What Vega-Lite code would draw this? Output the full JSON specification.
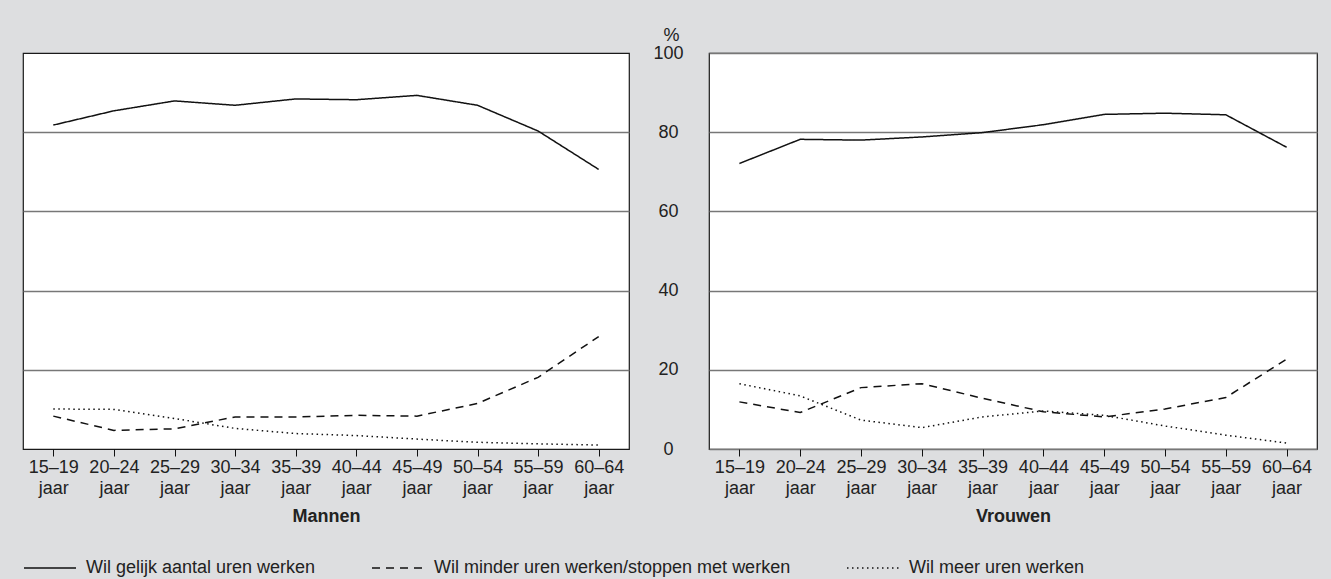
{
  "$schema": "https://vega.github.io/schema/vega-lite/v6.json",
  "background": "#dddee0",
  "padding": {"left": 22, "top": 25, "right": 15, "bottom": 4},
  "bounds": "flush",
  "spacing": 80,
  "config": {
    "font": "Liberation Sans",
    "view": {"fill": "white", "stroke": "#1a1a1a", "strokeWidth": 1.2},
    "axis": {"labelFont": "Liberation Sans", "labelFontSize": 18, "labelColor": "#222", "titleFont": "Liberation Sans", "titleColor": "#222", "titleFontSize": 18},
    "legend": {"labelFont": "Liberation Sans", "labelFontSize": 18, "labelColor": "#222"}
  },
  "datasets": {
    "mannen": [
      {"leeftijd": "15–19 jaar", "reeks": "Wil gelijk aantal uren werken", "pct": 81.8},
      {"leeftijd": "20–24 jaar", "reeks": "Wil gelijk aantal uren werken", "pct": 85.4},
      {"leeftijd": "25–29 jaar", "reeks": "Wil gelijk aantal uren werken", "pct": 87.9},
      {"leeftijd": "30–34 jaar", "reeks": "Wil gelijk aantal uren werken", "pct": 86.8},
      {"leeftijd": "35–39 jaar", "reeks": "Wil gelijk aantal uren werken", "pct": 88.4},
      {"leeftijd": "40–44 jaar", "reeks": "Wil gelijk aantal uren werken", "pct": 88.2},
      {"leeftijd": "45–49 jaar", "reeks": "Wil gelijk aantal uren werken", "pct": 89.3},
      {"leeftijd": "50–54 jaar", "reeks": "Wil gelijk aantal uren werken", "pct": 86.8},
      {"leeftijd": "55–59 jaar", "reeks": "Wil gelijk aantal uren werken", "pct": 80.3},
      {"leeftijd": "60–64 jaar", "reeks": "Wil gelijk aantal uren werken", "pct": 70.6},
      {"leeftijd": "15–19 jaar", "reeks": "Wil minder uren werken/stoppen met werken", "pct": 8.3},
      {"leeftijd": "20–24 jaar", "reeks": "Wil minder uren werken/stoppen met werken", "pct": 4.7},
      {"leeftijd": "25–29 jaar", "reeks": "Wil minder uren werken/stoppen met werken", "pct": 5.1},
      {"leeftijd": "30–34 jaar", "reeks": "Wil minder uren werken/stoppen met werken", "pct": 8.1},
      {"leeftijd": "35–39 jaar", "reeks": "Wil minder uren werken/stoppen met werken", "pct": 8.1},
      {"leeftijd": "40–44 jaar", "reeks": "Wil minder uren werken/stoppen met werken", "pct": 8.5},
      {"leeftijd": "45–49 jaar", "reeks": "Wil minder uren werken/stoppen met werken", "pct": 8.3},
      {"leeftijd": "50–54 jaar", "reeks": "Wil minder uren werken/stoppen met werken", "pct": 11.5},
      {"leeftijd": "55–59 jaar", "reeks": "Wil minder uren werken/stoppen met werken", "pct": 18.1},
      {"leeftijd": "60–64 jaar", "reeks": "Wil minder uren werken/stoppen met werken", "pct": 28.4},
      {"leeftijd": "15–19 jaar", "reeks": "Wil meer uren werken", "pct": 10.1},
      {"leeftijd": "20–24 jaar", "reeks": "Wil meer uren werken", "pct": 10.0},
      {"leeftijd": "25–29 jaar", "reeks": "Wil meer uren werken", "pct": 7.7},
      {"leeftijd": "30–34 jaar", "reeks": "Wil meer uren werken", "pct": 5.2},
      {"leeftijd": "35–39 jaar", "reeks": "Wil meer uren werken", "pct": 3.9},
      {"leeftijd": "40–44 jaar", "reeks": "Wil meer uren werken", "pct": 3.4},
      {"leeftijd": "45–49 jaar", "reeks": "Wil meer uren werken", "pct": 2.5},
      {"leeftijd": "50–54 jaar", "reeks": "Wil meer uren werken", "pct": 1.7},
      {"leeftijd": "55–59 jaar", "reeks": "Wil meer uren werken", "pct": 1.3},
      {"leeftijd": "60–64 jaar", "reeks": "Wil meer uren werken", "pct": 1.0}
    ],
    "vrouwen": [
      {"leeftijd": "15–19 jaar", "reeks": "Wil gelijk aantal uren werken", "pct": 72.1},
      {"leeftijd": "20–24 jaar", "reeks": "Wil gelijk aantal uren werken", "pct": 78.2},
      {"leeftijd": "25–29 jaar", "reeks": "Wil gelijk aantal uren werken", "pct": 78.0},
      {"leeftijd": "30–34 jaar", "reeks": "Wil gelijk aantal uren werken", "pct": 78.8},
      {"leeftijd": "35–39 jaar", "reeks": "Wil gelijk aantal uren werken", "pct": 79.9},
      {"leeftijd": "40–44 jaar", "reeks": "Wil gelijk aantal uren werken", "pct": 81.9},
      {"leeftijd": "45–49 jaar", "reeks": "Wil gelijk aantal uren werken", "pct": 84.5},
      {"leeftijd": "50–54 jaar", "reeks": "Wil gelijk aantal uren werken", "pct": 84.8},
      {"leeftijd": "55–59 jaar", "reeks": "Wil gelijk aantal uren werken", "pct": 84.4},
      {"leeftijd": "60–64 jaar", "reeks": "Wil gelijk aantal uren werken", "pct": 76.2},
      {"leeftijd": "15–19 jaar", "reeks": "Wil minder uren werken/stoppen met werken", "pct": 11.9},
      {"leeftijd": "20–24 jaar", "reeks": "Wil minder uren werken/stoppen met werken", "pct": 9.2},
      {"leeftijd": "25–29 jaar", "reeks": "Wil minder uren werken/stoppen met werken", "pct": 15.5},
      {"leeftijd": "30–34 jaar", "reeks": "Wil minder uren werken/stoppen met werken", "pct": 16.5},
      {"leeftijd": "35–39 jaar", "reeks": "Wil minder uren werken/stoppen met werken", "pct": 12.8},
      {"leeftijd": "40–44 jaar", "reeks": "Wil minder uren werken/stoppen met werken", "pct": 9.4},
      {"leeftijd": "45–49 jaar", "reeks": "Wil minder uren werken/stoppen met werken", "pct": 8.1},
      {"leeftijd": "50–54 jaar", "reeks": "Wil minder uren werken/stoppen met werken", "pct": 10.1},
      {"leeftijd": "55–59 jaar", "reeks": "Wil minder uren werken/stoppen met werken", "pct": 13.0},
      {"leeftijd": "60–64 jaar", "reeks": "Wil minder uren werken/stoppen met werken", "pct": 22.7},
      {"leeftijd": "15–19 jaar", "reeks": "Wil meer uren werken", "pct": 16.5},
      {"leeftijd": "20–24 jaar", "reeks": "Wil meer uren werken", "pct": 13.4},
      {"leeftijd": "25–29 jaar", "reeks": "Wil meer uren werken", "pct": 7.3},
      {"leeftijd": "30–34 jaar", "reeks": "Wil meer uren werken", "pct": 5.4},
      {"leeftijd": "35–39 jaar", "reeks": "Wil meer uren werken", "pct": 8.1},
      {"leeftijd": "40–44 jaar", "reeks": "Wil meer uren werken", "pct": 9.6},
      {"leeftijd": "45–49 jaar", "reeks": "Wil meer uren werken", "pct": 8.5},
      {"leeftijd": "50–54 jaar", "reeks": "Wil meer uren werken", "pct": 5.8},
      {"leeftijd": "55–59 jaar", "reeks": "Wil meer uren werken", "pct": 3.5},
      {"leeftijd": "60–64 jaar", "reeks": "Wil meer uren werken", "pct": 1.5}
    ]
  },
  "resolve": {"scale": {"strokeDash": "shared"}, "legend": {"strokeDash": "shared"}},
  "hconcat": [
    {
      "width": 606,
      "height": 396,
      "data": {"name": "mannen"},
      "mark": {"type": "line", "color": "#111", "strokeWidth": 1.5},
      "encoding": {
        "x": {"field": "leeftijd", "type": "ordinal", "sort": null,
          "scale": {"type": "point", "padding": 0.5},
          "axis": {"title": "Mannen", "titleFontWeight": "bold", "labelAngle": 0, "labelExpr": "split(datum.label, ' ')", "labelLineHeight": 21, "labelOverlap": false, "tickColor": "#111", "tickSize": 7, "domain": false, "grid": false, "labelPadding": 2, "titlePadding": 10}},
        "y": {"field": "pct", "type": "quantitative",
          "scale": {"domain": [0, 100], "nice": false},
          "axis": {"labels": false, "ticks": false, "domain": false, "title": null, "values": [20, 40, 60, 80], "grid": true, "gridColor": "#777", "gridWidth": 1.5}},
        "strokeDash": {"field": "reeks", "type": "nominal",
          "scale": {"domain": ["Wil gelijk aantal uren werken", "Wil minder uren werken/stoppen met werken", "Wil meer uren werken"], "range": [[1, 0], [8, 6], [1.5, 3.5]]},
          "legend": {"orient": "none", "legendX": 0, "legendY": 488, "direction": "horizontal", "title": null, "symbolType": "stroke", "symbolSize": 2704, "symbolStrokeColor": "#111", "symbolStrokeWidth": 1.5, "labelOffset": 9, "columnPadding": 53, "labelLimit": 0}}
      }
    },
    {
      "width": 608,
      "height": 396,
      "data": {"name": "vrouwen"},
      "mark": {"type": "line", "color": "#111", "strokeWidth": 1.5},
      "encoding": {
        "x": {"field": "leeftijd", "type": "ordinal", "sort": null,
          "scale": {"type": "point", "padding": 0.5},
          "axis": {"title": "Vrouwen", "titleFontWeight": "bold", "labelAngle": 0, "labelExpr": "split(datum.label, ' ')", "labelLineHeight": 21, "labelOverlap": false, "tickColor": "#111", "tickSize": 7, "domain": false, "grid": false, "labelPadding": 2, "titlePadding": 10}},
        "y": {"field": "pct", "type": "quantitative",
          "scale": {"domain": [0, 100], "nice": false},
          "axis": {"values": [0, 20, 40, 60, 80, 100], "ticks": false, "tickSize": 0, "domain": false, "grid": true, "gridColor": "#777", "gridWidth": 1.5, "labelAlign": "center", "labelPadding": 41, "labelBaseline": "middle",
            "title": "%", "titleAngle": 0, "titleX": -38, "titleY": -13, "titleAlign": "center", "titleBaseline": "alphabetic", "titleFontWeight": "normal"}},
        "strokeDash": {"field": "reeks", "type": "nominal"}
      }
    }
  ]
}
